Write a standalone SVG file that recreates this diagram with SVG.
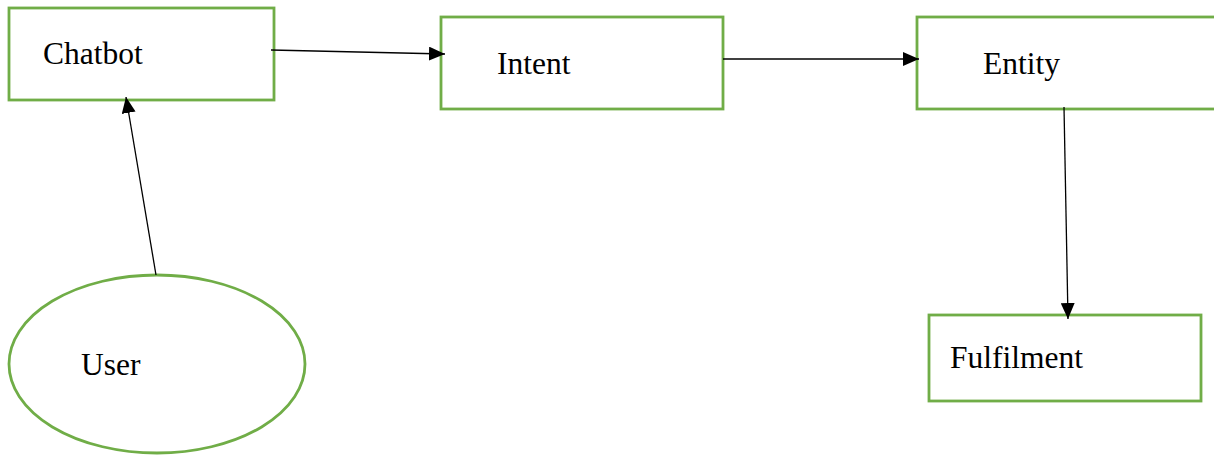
<svg xmlns="http://www.w3.org/2000/svg" width="1214" height="455" viewBox="0 0 1214 455">
  <style>
    .box { fill: #ffffff; stroke: #70ad47; stroke-width: 2.8; }
    .label { font-family: "Liberation Serif", "Times New Roman", serif; font-size: 31.5px; fill: #000000; }
    .conn { fill: none; stroke: #000000; stroke-width: 1.3; marker-end: url(#arrow); }
  </style>
  <defs>
    <marker id="arrow" viewBox="0 0 16 14" refX="16" refY="7" markerWidth="16" markerHeight="14" markerUnits="userSpaceOnUse" orient="auto">
      <path d="M0,0 L16,7 L0,14 Z" fill="#000000"/>
    </marker>
  </defs>

  <g id="chatbot">
    <rect class="box" x="9" y="8" width="265" height="92"/>
    <text class="label" x="43" y="64">Chatbot</text>
  </g>

  <g id="intent">
    <rect class="box" x="441" y="17" width="282" height="92"/>
    <text class="label" x="497" y="74">Intent</text>
  </g>

  <g id="entity">
    <rect class="box" x="917" y="17" width="310" height="92"/>
    <text class="label" x="983" y="74">Entity</text>
  </g>

  <g id="fulfilment">
    <rect class="box" x="929" y="315" width="272" height="86"/>
    <text class="label" x="950" y="368">Fulfilment</text>
  </g>

  <g id="user">
    <ellipse class="box" cx="157" cy="364" rx="148" ry="89"/>
    <text class="label" x="81" y="375">User</text>
  </g>

  <g id="connectors">
    <line class="conn" x1="271" y1="50" x2="445" y2="54"/>
    <line class="conn" x1="723" y1="59" x2="919" y2="59"/>
    <line class="conn" x1="1064" y1="107" x2="1068" y2="319"/>
    <line class="conn" x1="156" y1="275" x2="126" y2="97"/>
  </g>
</svg>
